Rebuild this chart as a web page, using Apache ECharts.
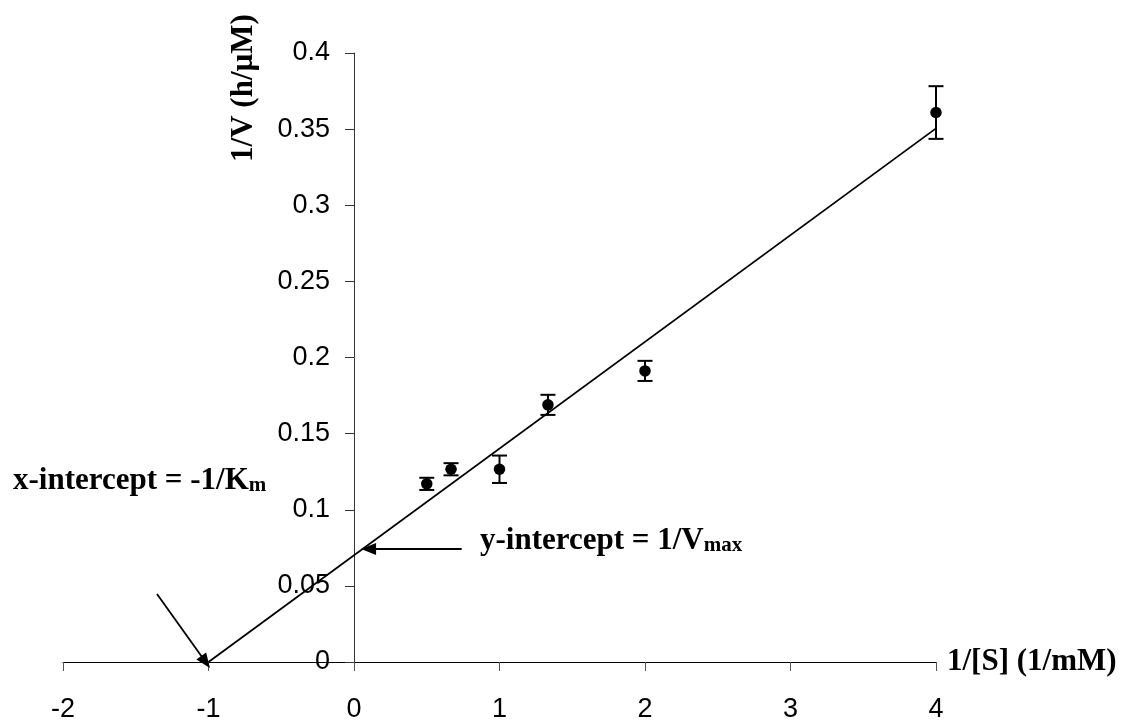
<!DOCTYPE html>
<html>
<head>
<meta charset="utf-8">
<script src="https://cdn.jsdelivr.net/npm/echarts@6/dist/echarts.min.js"></script>
<style>
  html, body { margin: 0; padding: 0; background: #fff; }
  #chart { width: 1121px; height: 722px; }
</style>
</head>
<body>
<div id="chart"></div>
<script>
// Lineweaver-Burk double-reciprocal plot
const invSubstrate = [0.5, 0.667, 1, 1.333, 2, 4];          // 1/[S] (1/mM)
const invVelocity  = [0.117, 0.1266, 0.1266, 0.1689, 0.1912, 0.3609]; // 1/V (h/µM)
const velocityErr  = [0.004, 0.004, 0.009, 0.0066, 0.0066, 0.0173];

// linear fit, from the x-intercept (-1/Km) to the last point
const fitX = [-1, 4];
const fitY = [0, 0.3505];

// annotation arrows: [start, end] in data units
const xInterceptArrow = [[-1.354, 0.0447], [-1.02, 0]];
const yInterceptArrow = [[0.74, 0.0742], [0.1, 0.0742]];

const xTicks = { min: -2, max: 4, step: 1 };
const yTicks = { min: 0, max: 0.4, step: 0.05 };

const sansFont = '"Liberation Sans", Arial, sans-serif';
const serifFont = '"Liberation Serif", "Times New Roman", serif';

const gridBox = { left: 63, right: 185, top: 53, bottom: 60 };
const plotWidth = 1121 - gridBox.left - gridBox.right;
// the vertical axis crosses at x = 0
const yAxisShift = -plotWidth * (0 - xTicks.min) / (xTicks.max - xTicks.min);

const chart = echarts.init(document.getElementById('chart'));

const titleRich = {
  a: { fontFamily: serifFont, fontWeight: 'bold', fontSize: 31, lineHeight: 31, fill: '#000' },
  b: { fontFamily: serifFont, fontWeight: 'bold', fontSize: 21, lineHeight: 16, verticalAlign: 'bottom', fill: '#000' }
};

chart.setOption({
  backgroundColor: '#ffffff',
  animation: false,
  grid: Object.assign({ containLabel: false, outerBoundsMode: 'none' }, gridBox),
  xAxis: {
    type: 'value',
    min: xTicks.min, max: xTicks.max, interval: xTicks.step,
    splitLine: { show: false },
    axisLine: { onZero: false, lineStyle: { color: '#000', width: 1 } },
    axisTick: { show: true, length: 9, lineStyle: { color: '#555' } },
    axisLabel: { fontFamily: sansFont, fontSize: 27, color: '#000', margin: 34 },
    name: '1/[S] (1/mM)',
    nameLocation: 'end',
    nameGap: 11,
    nameTextStyle: {
      fontFamily: serifFont, fontWeight: 'bold', fontSize: 31, color: '#000',
      align: 'left', verticalAlign: 'middle', padding: [0, 0, 12, 0]
    }
  },
  yAxis: {
    type: 'value',
    position: 'left',
    offset: yAxisShift,
    min: yTicks.min, max: yTicks.max, interval: yTicks.step,
    splitLine: { show: false },
    axisLine: { show: true, onZero: false, lineStyle: { color: '#333', width: 1 } },
    axisTick: { show: true, length: 9, lineStyle: { color: '#333' } },
    axisLabel: { fontFamily: sansFont, fontSize: 27, color: '#000', margin: 24 }
  },
  graphic: [
    {
      type: 'text',
      x: 244, y: 88,
      rotation: Math.PI / 2,
      style: {
        text: '1/V (h/\u00B5M)',
        font: 'bold 31px ' + serifFont,
        fill: '#000',
        align: 'center',
        verticalAlign: 'middle'
      }
    },
    {
      type: 'text',
      x: 13, y: 465,
      style: {
        text: '{a|x-intercept = -1/K}{b|m}',
        align: 'left',
        verticalAlign: 'top',
        rich: titleRich
      }
    },
    {
      type: 'text',
      x: 480, y: 525,
      style: {
        text: '{a|y-intercept = 1/V}{b|max}',
        align: 'left',
        verticalAlign: 'top',
        rich: titleRich
      }
    }
  ],
  series: [
    {
      name: 'fit',
      type: 'line',
      data: fitX.map((x, i) => [x, fitY[i]]),
      showSymbol: false,
      symbol: 'none',
      lineStyle: { color: '#000', width: 1.8 },
      silent: true,
      z: 2,
      markLine: {
        silent: true,
        symbol: ['none', 'triangle'],
        symbolSize: [12, 15],
        label: { show: false },
        lineStyle: { color: '#000', width: 1.8, type: 'solid', opacity: 1 },
        itemStyle: { color: '#000', opacity: 1 },
        data: [
          [{ coord: xInterceptArrow[0] }, { coord: xInterceptArrow[1] }],
          [{ coord: yInterceptArrow[0] }, { coord: yInterceptArrow[1] }]
        ]
      }
    },
    {
      name: 'error',
      type: 'custom',
      data: invSubstrate.map((x, i) => [x, invVelocity[i] - velocityErr[i], invVelocity[i] + velocityErr[i]]),
      renderItem: function (params, api) {
        const x = api.value(0);
        const lo = api.coord([x, api.value(1)]);
        const hi = api.coord([x, api.value(2)]);
        const half = 7.5;
        const style = { stroke: '#000', lineWidth: 2, fill: null };
        return {
          type: 'group',
          children: [
            { type: 'line', shape: { x1: lo[0], y1: lo[1], x2: hi[0], y2: hi[1] }, style: style },
            { type: 'line', shape: { x1: lo[0] - half, y1: lo[1], x2: lo[0] + half, y2: lo[1] }, style: style },
            { type: 'line', shape: { x1: hi[0] - half, y1: hi[1], x2: hi[0] + half, y2: hi[1] }, style: style }
          ]
        };
      },
      z: 3,
      silent: true
    },
    {
      name: 'data',
      type: 'scatter',
      data: invSubstrate.map((x, i) => [x, invVelocity[i]]),
      symbol: 'circle',
      symbolSize: 11.5,
      itemStyle: { color: '#000', opacity: 1 },
      z: 4,
      silent: true
    }
  ]
});
</script>
</body>
</html>
